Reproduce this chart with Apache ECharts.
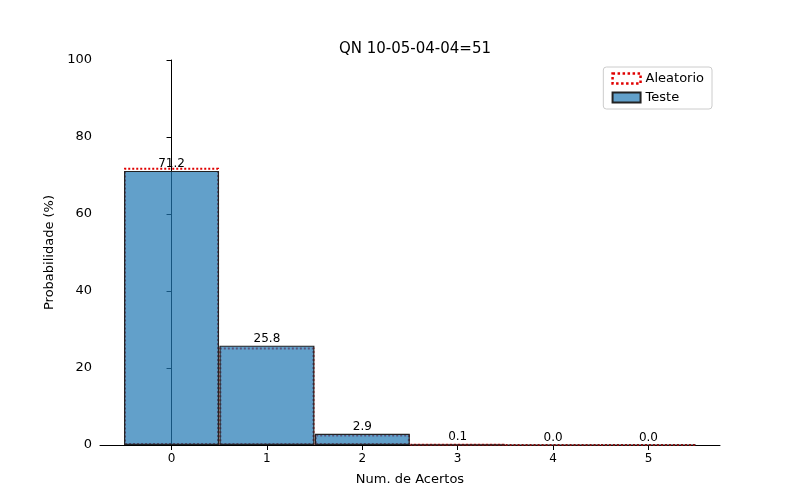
<!DOCTYPE html><html><head><meta charset="utf-8"><script src="https://cdn.jsdelivr.net/npm/echarts@6/dist/echarts.min.js"></script></head><body style="margin:0"><div id="c" style="width:800px;height:500px"></div><script>
const categories=[0,1,2,3,4,5];
const teste=[71.2,25.8,2.9,0.1,0.0,0.0];
const aleatorio=[72.0,25.3,2.7,0.1,0.0,0.0];
const yTicks=[0,20,40,60,80,100];
const ch=echarts.init(document.getElementById('c'));
ch.setOption({
 animation:false,
 title:{text:'QN 10-05-04-04=51',left:410,top:37,textAlign:'center',textStyle:{fontFamily:'DejaVu Sans',fontSize:15,fontWeight:'normal',color:'#000'}},
 legend:{right:88,top:67,orient:'vertical',itemGap:6,backgroundColor:'#fff',borderColor:'#ccc',borderWidth:1,borderRadius:3,padding:[5,8],itemWidth:28,itemHeight:10,textStyle:{fontFamily:'DejaVu Sans',fontSize:13,color:'#000'},
  data:[{name:'Aleatorio',icon:'rect',itemStyle:{color:'#fff',borderColor:'#e00000',borderWidth:2.5,borderType:'dotted'}},{name:'Teste',icon:'rect'}]},
 grid:{left:100,right:80,top:60,bottom:55},
 xAxis:{type:'value',min:-0.75,max:5.75,interval:1,name:'Num. de Acertos',nameLocation:'middle',nameGap:28,nameTextStyle:{fontFamily:'DejaVu Sans',fontSize:13,color:'#000'},
  axisLine:{onZero:false,lineStyle:{color:'#000'}},axisTick:{show:true,lineStyle:{color:'#000'}},splitLine:{show:false},
  axisLabel:{fontFamily:'DejaVu Sans',fontSize:12,color:'#000',customValues:categories},axisTick:{customValues:categories,lineStyle:{color:'#000'}}},
 yAxis:{type:'value',min:0,max:100,interval:20,name:'Probabilidade (%)',nameLocation:'middle',nameGap:38,nameTextStyle:{fontFamily:'DejaVu Sans',fontSize:13,color:'#000'},
  axisLine:{show:true,lineStyle:{color:'#000'}},axisTick:{show:true,lineStyle:{color:'#000'}},splitLine:{show:false},
  axisLabel:{fontFamily:'DejaVu Sans',fontSize:13,color:'#000',formatter:v=>yTicks.includes(v)?String(v):''}},
 series:[
  {name:'Teste',type:'bar',barWidth:95,barGap:'-100%',data:categories.map((c,i)=>[c,teste[i]]),
   itemStyle:{color:'rgba(31,119,180,0.7)',borderColor:'#222',borderWidth:1.2},
   label:{show:true,position:'top',distance:1,fontFamily:'DejaVu Sans',fontSize:12,color:'#000',formatter:p=>p.value[1].toFixed(1)}},
  {name:'Aleatorio',type:'bar',barWidth:95,barGap:'-100%',data:categories.map((c,i)=>[c,aleatorio[i]]),
   itemStyle:{color:'rgba(0,0,0,0)',borderColor:'#e00000',borderWidth:2,borderType:'dotted'},z:1}
 ]
});
</script></body></html>
